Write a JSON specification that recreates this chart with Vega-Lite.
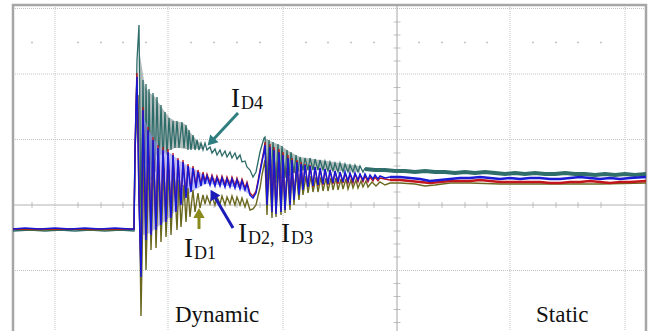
{
"$schema": "https://vega.github.io/schema/vega-lite/v6.json",
"width": 654, "height": 331, "autosize": "none", "padding": 0,
"background": "white",
"config": {"view": {"stroke": null}},
"encoding": {
 "x": {"field": "t", "type": "quantitative", "scale": {"domain": [0, 654], "nice": false, "zero": false}, "axis": null},
 "y": {"field": "i", "type": "quantitative", "scale": {"domain": [-126, 205], "nice": false, "zero": false}, "axis": null}
},
"datasets": {
 "grid": [
  {"k":"v","t":55,"t2":55,"i":200,"i2":-126},{"k":"v","t":168,"t2":168,"i":200,"i2":-126},{"k":"v","t":283,"t2":283,"i":200,"i2":-126},{"k":"v","t":510,"t2":510,"i":200,"i2":-126},{"k":"v","t":625,"t2":625,"i":200,"i2":-126},
  {"k":"h","t":13,"t2":646,"i":196.5,"i2":196.5},{"k":"h","t":13,"t2":646,"i":131,"i2":131},{"k":"h","t":13,"t2":646,"i":65.5,"i2":65.5},{"k":"h","t":13,"t2":646,"i":-65.5,"i2":-65.5},
  {"k":"c","t":397,"t2":397,"i":200,"i2":-126},{"k":"c","t":13,"t2":646,"i":0,"i2":0}
 ],
 "vt": [{"t":397,"i":13},{"t":397,"i":26},{"t":397,"i":39},{"t":397,"i":52},{"t":397,"i":78.5},{"t":397,"i":91.5},{"t":397,"i":104.5},{"t":397,"i":117.5},{"t":397,"i":144},{"t":397,"i":157},{"t":397,"i":170},{"t":397,"i":183},{"t":397,"i":-13},{"t":397,"i":-26},{"t":397,"i":-39},{"t":397,"i":-52},{"t":397,"i":-78.5},{"t":397,"i":-91.5},{"t":397,"i":-104.5},{"t":397,"i":-117.5}],
 "ht": [{"t":32,"i":0},{"t":78,"i":0},{"t":101,"i":0},{"t":123,"i":0},{"t":146,"i":0},{"t":191,"i":0},{"t":214,"i":0},{"t":237,"i":0},{"t":260,"i":0},{"t":306,"i":0},{"t":328,"i":0},{"t":351,"i":0},{"t":374,"i":0},{"t":419,"i":0},{"t":442,"i":0},{"t":465,"i":0},{"t":487,"i":0},{"t":533,"i":0},{"t":556,"i":0},{"t":578,"i":0},{"t":601,"i":0}],
 "dots": [{"t":32,"i":162.5},{"t":78,"i":162.5},{"t":101,"i":162.5},{"t":123,"i":162.5},{"t":146,"i":162.5},{"t":191,"i":162.5},{"t":214,"i":162.5},{"t":237,"i":162.5},{"t":260,"i":162.5},{"t":306,"i":162.5},{"t":328,"i":162.5},{"t":351,"i":162.5},{"t":374,"i":162.5},{"t":419,"i":162.5},{"t":442,"i":162.5},{"t":465,"i":162.5},{"t":487,"i":162.5},{"t":533,"i":162.5},{"t":556,"i":162.5},{"t":578,"i":162.5},{"t":601,"i":162.5},{"t":646,"i":162.5}],
 "frame": [{"t":13,"t2":646,"i":200,"i2":-140}],
 "env": [
  {"s":"4","g":"a","t":140,"i":150,"i2":40},{"s":"4","g":"a","t":145,"i":118,"i2":40},{"s":"4","g":"a","t":150,"i":112,"i2":45},{"s":"4","g":"a","t":155,"i":108,"i2":50},{"s":"4","g":"a","t":160,"i":100,"i2":50},{"s":"4","g":"a","t":165,"i":93,"i2":52},{"s":"4","g":"a","t":170,"i":87,"i2":55},{"s":"4","g":"a","t":175,"i":84,"i2":57},{"s":"4","g":"a","t":180,"i":83,"i2":57},{"s":"4","g":"a","t":185,"i":81,"i2":56},{"s":"4","g":"a","t":190,"i":73,"i2":56},{"s":"4","g":"a","t":195,"i":67,"i2":56},{"s":"4","g":"a","t":200,"i":62,"i2":56},{"s":"4","g":"a","t":203,"i":60,"i2":56},
  {"s":"4","g":"b","t":265,"i":67,"i2":25},{"s":"4","g":"b","t":270,"i":64,"i2":25},{"s":"4","g":"b","t":280,"i":60,"i2":27},{"s":"4","g":"b","t":290,"i":53,"i2":30},{"s":"4","g":"b","t":300,"i":48,"i2":34},{"s":"4","g":"b","t":320,"i":45,"i2":35},{"s":"4","g":"b","t":360,"i":39,"i2":33},
  {"s":"3","g":"c","t":143,"i":90,"i2":-30},{"s":"3","g":"c","t":150,"i":72,"i2":-28},{"s":"3","g":"c","t":160,"i":57,"i2":-20},{"s":"3","g":"c","t":170,"i":52,"i2":-12},{"s":"3","g":"c","t":180,"i":44,"i2":0},{"s":"3","g":"c","t":190,"i":38,"i2":12},{"s":"3","g":"c","t":200,"i":33,"i2":18},{"s":"3","g":"c","t":205,"i":28,"i2":21},{"s":"3","g":"c","t":220,"i":26,"i2":20},{"s":"3","g":"c","t":240,"i":24,"i2":17},{"s":"3","g":"c","t":250,"i":14,"i2":10}
 ],
 "tr": [
  {"s":"ID4","t":13,"i":-26},{"s":"ID4","t":30,"i":-25},{"s":"ID4","t":45,"i":-26},{"s":"ID4","t":60,"i":-25},{"s":"ID4","t":75,"i":-26},{"s":"ID4","t":90,"i":-25},{"s":"ID4","t":105,"i":-26},{"s":"ID4","t":120,"i":-25},{"s":"ID4","t":134,"i":-26},
  {"s":"ID4","t":135,"i":45},{"s":"ID4","t":137,"i":145},{"s":"ID4","t":139,"i":180},{"s":"ID4","t":141,"i":-25},{"s":"ID4","t":143,"i":125},{"s":"ID4","t":145,"i":5},{"s":"ID4","t":146,"i":121},{"s":"ID4","t":148,"i":15},{"s":"ID4","t":149,"i":116},{"s":"ID4","t":151,"i":25},{"s":"ID4","t":153,"i":112},{"s":"ID4","t":155,"i":33},{"s":"ID4","t":157,"i":108},{"s":"ID4","t":159,"i":40},{"s":"ID4","t":161,"i":100},{"s":"ID4","t":163,"i":45},{"s":"ID4","t":165,"i":93},{"s":"ID4","t":167,"i":50},{"s":"ID4","t":169,"i":87},{"s":"ID4","t":171,"i":55},{"s":"ID4","t":173,"i":84},{"s":"ID4","t":175,"i":57},{"s":"ID4","t":177,"i":84},{"s":"ID4","t":179,"i":57},{"s":"ID4","t":182,"i":83},{"s":"ID4","t":184,"i":57},{"s":"ID4","t":186,"i":80},{"s":"ID4","t":188,"i":55},{"s":"ID4","t":189,"i":75},{"s":"ID4","t":191,"i":55},{"s":"ID4","t":193,"i":70},{"s":"ID4","t":195,"i":55},{"s":"ID4","t":197,"i":65},{"s":"ID4","t":199,"i":55},{"s":"ID4","t":201,"i":62},{"s":"ID4","t":203,"i":55},
  {"s":"ID4","t":205,"i":62},{"s":"ID4","t":207,"i":55},{"s":"ID4","t":210,"i":58},{"s":"ID4","t":212,"i":52},{"s":"ID4","t":215,"i":56},{"s":"ID4","t":217,"i":50},{"s":"ID4","t":220,"i":55},{"s":"ID4","t":222,"i":49},{"s":"ID4","t":225,"i":54},{"s":"ID4","t":227,"i":48},{"s":"ID4","t":230,"i":53},{"s":"ID4","t":232,"i":47},{"s":"ID4","t":235,"i":52},{"s":"ID4","t":237,"i":46},{"s":"ID4","t":240,"i":50},{"s":"ID4","t":242,"i":43},{"s":"ID4","t":245,"i":44},{"s":"ID4","t":247,"i":38},{"s":"ID4","t":250,"i":35},{"s":"ID4","t":253,"i":28},{"s":"ID4","t":256,"i":33},{"s":"ID4","t":258,"i":43},{"s":"ID4","t":260,"i":53},{"s":"ID4","t":262,"i":60},{"s":"ID4","t":264,"i":67},
  {"s":"ID4","t":265,"i":68},{"s":"ID4","t":267,"i":20},{"s":"ID4","t":269,"i":65},{"s":"ID4","t":271,"i":20},{"s":"ID4","t":273,"i":63},{"s":"ID4","t":276,"i":22},{"s":"ID4","t":278,"i":61},{"s":"ID4","t":280,"i":25},{"s":"ID4","t":282,"i":59},{"s":"ID4","t":285,"i":27},{"s":"ID4","t":287,"i":55},{"s":"ID4","t":289,"i":29},{"s":"ID4","t":291,"i":53},{"s":"ID4","t":294,"i":32},{"s":"ID4","t":296,"i":50},{"s":"ID4","t":298,"i":33},{"s":"ID4","t":300,"i":48},{"s":"ID4","t":303,"i":35},{"s":"ID4","t":305,"i":47},{"s":"ID4","t":308,"i":35},{"s":"ID4","t":310,"i":47},{"s":"ID4","t":313,"i":35},{"s":"ID4","t":315,"i":46},{"s":"ID4","t":318,"i":35},{"s":"ID4","t":320,"i":45},{"s":"ID4","t":323,"i":35},{"s":"ID4","t":325,"i":44},{"s":"ID4","t":328,"i":34},{"s":"ID4","t":330,"i":43},{"s":"ID4","t":333,"i":34},{"s":"ID4","t":335,"i":42},{"s":"ID4","t":338,"i":33},{"s":"ID4","t":340,"i":42},{"s":"ID4","t":343,"i":33},{"s":"ID4","t":345,"i":41},{"s":"ID4","t":348,"i":33},{"s":"ID4","t":350,"i":40},{"s":"ID4","t":353,"i":33},{"s":"ID4","t":355,"i":40},{"s":"ID4","t":358,"i":33},{"s":"ID4","t":360,"i":39},{"s":"ID4","t":363,"i":33},{"s":"ID4","t":365,"i":37},
  {"s":"ID4s","t":365,"i":36},{"s":"ID4s","t":375,"i":35},{"s":"ID4s","t":385,"i":35},{"s":"ID4s","t":395,"i":34},{"s":"ID4s","t":405,"i":34},{"s":"ID4s","t":415,"i":33},{"s":"ID4s","t":425,"i":34},{"s":"ID4s","t":435,"i":33},{"s":"ID4s","t":445,"i":33},{"s":"ID4s","t":455,"i":32},{"s":"ID4s","t":465,"i":33},{"s":"ID4s","t":475,"i":32},{"s":"ID4s","t":485,"i":33},{"s":"ID4s","t":495,"i":32},{"s":"ID4s","t":505,"i":31},{"s":"ID4s","t":515,"i":32},{"s":"ID4s","t":525,"i":31},{"s":"ID4s","t":535,"i":32},{"s":"ID4s","t":545,"i":31},{"s":"ID4s","t":555,"i":31},{"s":"ID4s","t":565,"i":32},{"s":"ID4s","t":575,"i":31},{"s":"ID4s","t":585,"i":31},{"s":"ID4s","t":595,"i":30},{"s":"ID4s","t":605,"i":31},{"s":"ID4s","t":615,"i":30},{"s":"ID4s","t":625,"i":31},{"s":"ID4s","t":635,"i":30},{"s":"ID4s","t":646,"i":31},

  {"s":"ID1","t":13,"i":-24},{"s":"ID1","t":40,"i":-25},{"s":"ID1","t":70,"i":-24},{"s":"ID1","t":100,"i":-25},{"s":"ID1","t":134,"i":-24},
  {"s":"ID1","t":135,"i":55},{"s":"ID1","t":138,"i":110},{"s":"ID1","t":141,"i":-111},{"s":"ID1","t":144,"i":55},{"s":"ID1","t":146,"i":-65},{"s":"ID1","t":149,"i":50},{"s":"ID1","t":151,"i":-45},{"s":"ID1","t":154,"i":45},{"s":"ID1","t":156,"i":-43},{"s":"ID1","t":159,"i":40},{"s":"ID1","t":161,"i":-37},{"s":"ID1","t":164,"i":37},{"s":"ID1","t":166,"i":-32},{"s":"ID1","t":169,"i":35},{"s":"ID1","t":171,"i":-30},{"s":"ID1","t":174,"i":33},{"s":"ID1","t":177,"i":-25},{"s":"ID1","t":179,"i":25},{"s":"ID1","t":181,"i":-22},{"s":"ID1","t":184,"i":20},{"s":"ID1","t":186,"i":-17},{"s":"ID1","t":188,"i":17},{"s":"ID1","t":190,"i":-12},{"s":"ID1","t":193,"i":15},{"s":"ID1","t":195,"i":-7},{"s":"ID1","t":198,"i":12},{"s":"ID1","t":200,"i":-3},{"s":"ID1","t":203,"i":10},
  {"s":"ID1","t":205,"i":1},{"s":"ID1","t":207,"i":9},{"s":"ID1","t":210,"i":1},{"s":"ID1","t":212,"i":9},{"s":"ID1","t":215,"i":0},{"s":"ID1","t":217,"i":8},{"s":"ID1","t":220,"i":1},{"s":"ID1","t":222,"i":9},{"s":"ID1","t":225,"i":0},{"s":"ID1","t":227,"i":8},{"s":"ID1","t":230,"i":1},{"s":"ID1","t":232,"i":9},{"s":"ID1","t":235,"i":0},{"s":"ID1","t":237,"i":8},{"s":"ID1","t":240,"i":0},{"s":"ID1","t":242,"i":7},{"s":"ID1","t":245,"i":-2},{"s":"ID1","t":247,"i":5},{"s":"ID1","t":250,"i":-5},{"s":"ID1","t":253,"i":-4},{"s":"ID1","t":256,"i":0},{"s":"ID1","t":258,"i":9},{"s":"ID1","t":260,"i":17},{"s":"ID1","t":262,"i":30},{"s":"ID1","t":264,"i":40},
  {"s":"ID1","t":265,"i":45},{"s":"ID1","t":267,"i":-10},{"s":"ID1","t":269,"i":45},{"s":"ID1","t":272,"i":-13},{"s":"ID1","t":274,"i":45},{"s":"ID1","t":276,"i":-12},{"s":"ID1","t":278,"i":43},{"s":"ID1","t":281,"i":-10},{"s":"ID1","t":283,"i":40},{"s":"ID1","t":285,"i":-8},{"s":"ID1","t":287,"i":37},{"s":"ID1","t":290,"i":-5},{"s":"ID1","t":292,"i":35},{"s":"ID1","t":294,"i":0},{"s":"ID1","t":296,"i":33},{"s":"ID1","t":299,"i":5},{"s":"ID1","t":301,"i":30},{"s":"ID1","t":303,"i":10},{"s":"ID1","t":306,"i":29},{"s":"ID1","t":308,"i":12},{"s":"ID1","t":311,"i":29},{"s":"ID1","t":313,"i":13},{"s":"ID1","t":316,"i":28},{"s":"ID1","t":318,"i":13},{"s":"ID1","t":321,"i":28},{"s":"ID1","t":323,"i":14},{"s":"ID1","t":326,"i":27},{"s":"ID1","t":328,"i":14},{"s":"ID1","t":331,"i":27},{"s":"ID1","t":333,"i":15},{"s":"ID1","t":336,"i":27},{"s":"ID1","t":338,"i":15},{"s":"ID1","t":341,"i":26},{"s":"ID1","t":343,"i":16},{"s":"ID1","t":346,"i":26},{"s":"ID1","t":348,"i":16},{"s":"ID1","t":351,"i":25},{"s":"ID1","t":353,"i":17},{"s":"ID1","t":356,"i":25},{"s":"ID1","t":358,"i":17},{"s":"ID1","t":361,"i":24},{"s":"ID1","t":363,"i":18},{"s":"ID1","t":366,"i":24},{"s":"ID1","t":368,"i":18},{"s":"ID1","t":372,"i":23},{"s":"ID1","t":376,"i":19},{"s":"ID1","t":380,"i":23},{"s":"ID1","t":385,"i":20},{"s":"ID1","t":390,"i":22},
  {"s":"ID1","t":400,"i":22},{"s":"ID1","t":415,"i":21},{"s":"ID1","t":425,"i":19},{"s":"ID1","t":435,"i":20},{"s":"ID1","t":450,"i":22},{"s":"ID1","t":470,"i":22},{"s":"ID1","t":500,"i":21},{"s":"ID1","t":530,"i":21},{"s":"ID1","t":560,"i":21},{"s":"ID1","t":600,"i":21},{"s":"ID1","t":646,"i":22},

  {"s":"ID2","t":13,"i":-24},{"s":"ID2","t":50,"i":-24},{"s":"ID2","t":90,"i":-24},{"s":"ID2","t":134,"i":-24},
  {"s":"ID2","t":135,"i":55},{"s":"ID2","t":136,"i":100},{"s":"ID2","t":137,"i":132},{"s":"ID2","t":139,"i":5},{"s":"ID2","t":141,"i":-65},{"s":"ID2","t":143,"i":98},{"s":"ID2","t":146,"i":-32},{"s":"ID2","t":148,"i":78},{"s":"ID2","t":151,"i":-28},{"s":"ID2","t":153,"i":68},{"s":"ID2","t":156,"i":-22},{"s":"ID2","t":158,"i":60},{"s":"ID2","t":161,"i":-18},{"s":"ID2","t":163,"i":58},{"s":"ID2","t":166,"i":-15},{"s":"ID2","t":168,"i":56},{"s":"ID2","t":171,"i":-11},{"s":"ID2","t":173,"i":52},{"s":"ID2","t":176,"i":-5},{"s":"ID2","t":178,"i":47},{"s":"ID2","t":181,"i":2},{"s":"ID2","t":183,"i":45},{"s":"ID2","t":186,"i":9},{"s":"ID2","t":188,"i":41},{"s":"ID2","t":191,"i":15},{"s":"ID2","t":193,"i":39},{"s":"ID2","t":196,"i":19},{"s":"ID2","t":198,"i":35},{"s":"ID2","t":201,"i":21},{"s":"ID2","t":203,"i":33},
  {"s":"ID2","t":205,"i":23},{"s":"ID2","t":207,"i":31},{"s":"ID2","t":210,"i":22},{"s":"ID2","t":212,"i":30},{"s":"ID2","t":215,"i":21},{"s":"ID2","t":217,"i":29},{"s":"ID2","t":220,"i":21},{"s":"ID2","t":222,"i":29},{"s":"ID2","t":225,"i":20},{"s":"ID2","t":227,"i":28},{"s":"ID2","t":230,"i":20},{"s":"ID2","t":232,"i":28},{"s":"ID2","t":235,"i":19},{"s":"ID2","t":237,"i":27},{"s":"ID2","t":240,"i":18},{"s":"ID2","t":242,"i":26},{"s":"ID2","t":245,"i":17},{"s":"ID2","t":247,"i":23},{"s":"ID2","t":250,"i":12},{"s":"ID2","t":253,"i":9},{"s":"ID2","t":256,"i":14},{"s":"ID2","t":258,"i":24},{"s":"ID2","t":260,"i":35},{"s":"ID2","t":262,"i":45},{"s":"ID2","t":264,"i":55},
  {"s":"ID2","t":265,"i":63},{"s":"ID2","t":267,"i":2},{"s":"ID2","t":270,"i":61},{"s":"ID2","t":272,"i":-5},{"s":"ID2","t":274,"i":58},{"s":"ID2","t":276,"i":-7},{"s":"ID2","t":279,"i":56},{"s":"ID2","t":281,"i":-5},{"s":"ID2","t":283,"i":53},{"s":"ID2","t":285,"i":-3},{"s":"ID2","t":288,"i":50},{"s":"ID2","t":290,"i":2},{"s":"ID2","t":292,"i":47},{"s":"ID2","t":294,"i":7},{"s":"ID2","t":297,"i":45},{"s":"ID2","t":299,"i":12},{"s":"ID2","t":301,"i":43},{"s":"ID2","t":303,"i":16},{"s":"ID2","t":305,"i":41},{"s":"ID2","t":308,"i":18},{"s":"ID2","t":310,"i":40},{"s":"ID2","t":313,"i":18},{"s":"ID2","t":315,"i":38},{"s":"ID2","t":318,"i":19},{"s":"ID2","t":320,"i":37},{"s":"ID2","t":323,"i":20},{"s":"ID2","t":325,"i":36},{"s":"ID2","t":328,"i":20},{"s":"ID2","t":330,"i":35},{"s":"ID2","t":333,"i":21},{"s":"ID2","t":335,"i":34},{"s":"ID2","t":338,"i":21},{"s":"ID2","t":340,"i":33},{"s":"ID2","t":343,"i":22},{"s":"ID2","t":345,"i":32},{"s":"ID2","t":348,"i":22},{"s":"ID2","t":350,"i":31},{"s":"ID2","t":353,"i":22},{"s":"ID2","t":355,"i":31},{"s":"ID2","t":358,"i":23},{"s":"ID2","t":360,"i":30},{"s":"ID2","t":363,"i":23},{"s":"ID2","t":365,"i":29},{"s":"ID2","t":368,"i":23},{"s":"ID2","t":370,"i":28},{"s":"ID2","t":373,"i":24},{"s":"ID2","t":375,"i":28},{"s":"ID2","t":378,"i":24},{"s":"ID2","t":380,"i":27},{"s":"ID2","t":385,"i":26},{"s":"ID2","t":390,"i":25},
  {"s":"ID2s","t":390,"i":25},{"s":"ID2s","t":400,"i":25},{"s":"ID2s","t":410,"i":24},{"s":"ID2s","t":420,"i":23},{"s":"ID2s","t":430,"i":22},{"s":"ID2s","t":440,"i":23},{"s":"ID2s","t":450,"i":24},{"s":"ID2s","t":460,"i":24},{"s":"ID2s","t":470,"i":24},{"s":"ID2s","t":480,"i":25},{"s":"ID2s","t":490,"i":24},{"s":"ID2s","t":500,"i":23},{"s":"ID2s","t":510,"i":23},{"s":"ID2s","t":520,"i":23},{"s":"ID2s","t":530,"i":23},{"s":"ID2s","t":540,"i":23},{"s":"ID2s","t":550,"i":22},{"s":"ID2s","t":560,"i":22},{"s":"ID2s","t":570,"i":23},{"s":"ID2s","t":580,"i":23},{"s":"ID2s","t":590,"i":24},{"s":"ID2s","t":600,"i":23},{"s":"ID2s","t":610,"i":22},{"s":"ID2s","t":620,"i":23},{"s":"ID2s","t":630,"i":23},{"s":"ID2s","t":646,"i":24},

  {"s":"ID3","t":13,"i":-24},{"s":"ID3","t":25,"i":-23},{"s":"ID3","t":40,"i":-24},{"s":"ID3","t":55,"i":-23},{"s":"ID3","t":70,"i":-24},{"s":"ID3","t":85,"i":-23},{"s":"ID3","t":100,"i":-24},{"s":"ID3","t":115,"i":-23},{"s":"ID3","t":130,"i":-24},{"s":"ID3","t":134,"i":-24},
  {"s":"ID3","t":135,"i":55},{"s":"ID3","t":136,"i":95},{"s":"ID3","t":137,"i":128},{"s":"ID3","t":139,"i":5},{"s":"ID3","t":141,"i":-72},{"s":"ID3","t":143,"i":95},{"s":"ID3","t":146,"i":-35},{"s":"ID3","t":148,"i":75},{"s":"ID3","t":151,"i":-30},{"s":"ID3","t":153,"i":65},{"s":"ID3","t":156,"i":-25},{"s":"ID3","t":158,"i":57},{"s":"ID3","t":161,"i":-20},{"s":"ID3","t":163,"i":55},{"s":"ID3","t":166,"i":-17},{"s":"ID3","t":168,"i":53},{"s":"ID3","t":171,"i":-13},{"s":"ID3","t":173,"i":50},{"s":"ID3","t":176,"i":-7},{"s":"ID3","t":178,"i":45},{"s":"ID3","t":181,"i":0},{"s":"ID3","t":183,"i":43},{"s":"ID3","t":186,"i":7},{"s":"ID3","t":188,"i":39},{"s":"ID3","t":191,"i":13},{"s":"ID3","t":193,"i":37},{"s":"ID3","t":196,"i":17},{"s":"ID3","t":198,"i":33},{"s":"ID3","t":201,"i":19},{"s":"ID3","t":203,"i":31},
  {"s":"ID3","t":205,"i":21},{"s":"ID3","t":207,"i":29},{"s":"ID3","t":210,"i":20},{"s":"ID3","t":212,"i":28},{"s":"ID3","t":215,"i":19},{"s":"ID3","t":217,"i":27},{"s":"ID3","t":220,"i":19},{"s":"ID3","t":222,"i":27},{"s":"ID3","t":225,"i":18},{"s":"ID3","t":227,"i":26},{"s":"ID3","t":230,"i":18},{"s":"ID3","t":232,"i":26},{"s":"ID3","t":235,"i":17},{"s":"ID3","t":237,"i":25},{"s":"ID3","t":240,"i":16},{"s":"ID3","t":242,"i":24},{"s":"ID3","t":245,"i":15},{"s":"ID3","t":247,"i":21},{"s":"ID3","t":250,"i":10},{"s":"ID3","t":253,"i":7},{"s":"ID3","t":256,"i":12},{"s":"ID3","t":258,"i":22},{"s":"ID3","t":260,"i":33},{"s":"ID3","t":262,"i":43},{"s":"ID3","t":264,"i":53},
  {"s":"ID3","t":265,"i":60},{"s":"ID3","t":267,"i":0},{"s":"ID3","t":270,"i":58},{"s":"ID3","t":272,"i":-7},{"s":"ID3","t":274,"i":55},{"s":"ID3","t":276,"i":-9},{"s":"ID3","t":279,"i":53},{"s":"ID3","t":281,"i":-7},{"s":"ID3","t":283,"i":50},{"s":"ID3","t":285,"i":-5},{"s":"ID3","t":288,"i":47},{"s":"ID3","t":290,"i":0},{"s":"ID3","t":292,"i":45},{"s":"ID3","t":294,"i":5},{"s":"ID3","t":297,"i":43},{"s":"ID3","t":299,"i":10},{"s":"ID3","t":301,"i":41},{"s":"ID3","t":303,"i":15},{"s":"ID3","t":305,"i":40},{"s":"ID3","t":308,"i":18},{"s":"ID3","t":310,"i":39},{"s":"ID3","t":313,"i":19},{"s":"ID3","t":315,"i":38},{"s":"ID3","t":318,"i":20},{"s":"ID3","t":320,"i":37},{"s":"ID3","t":323,"i":21},{"s":"ID3","t":325,"i":36},{"s":"ID3","t":328,"i":21},{"s":"ID3","t":330,"i":35},{"s":"ID3","t":333,"i":22},{"s":"ID3","t":335,"i":34},{"s":"ID3","t":338,"i":23},{"s":"ID3","t":340,"i":33},{"s":"ID3","t":343,"i":23},{"s":"ID3","t":345,"i":33},{"s":"ID3","t":348,"i":24},{"s":"ID3","t":350,"i":32},{"s":"ID3","t":353,"i":24},{"s":"ID3","t":355,"i":32},{"s":"ID3","t":358,"i":25},{"s":"ID3","t":360,"i":31},{"s":"ID3","t":363,"i":25},{"s":"ID3","t":365,"i":31},{"s":"ID3","t":368,"i":25},{"s":"ID3","t":370,"i":30},{"s":"ID3","t":373,"i":26},{"s":"ID3","t":375,"i":30},{"s":"ID3","t":378,"i":26},{"s":"ID3","t":380,"i":29},{"s":"ID3","t":385,"i":27},{"s":"ID3","t":390,"i":28},
  {"s":"ID3s","t":390,"i":28},{"s":"ID3s","t":400,"i":28},{"s":"ID3s","t":410,"i":27},{"s":"ID3s","t":420,"i":26},{"s":"ID3s","t":430,"i":24},{"s":"ID3s","t":440,"i":25},{"s":"ID3s","t":450,"i":26},{"s":"ID3s","t":460,"i":27},{"s":"ID3s","t":470,"i":27},{"s":"ID3s","t":480,"i":28},{"s":"ID3s","t":490,"i":27},{"s":"ID3s","t":500,"i":26},{"s":"ID3s","t":510,"i":27},{"s":"ID3s","t":520,"i":26},{"s":"ID3s","t":530,"i":27},{"s":"ID3s","t":540,"i":27},{"s":"ID3s","t":550,"i":26},{"s":"ID3s","t":560,"i":26},{"s":"ID3s","t":570,"i":27},{"s":"ID3s","t":580,"i":28},{"s":"ID3s","t":590,"i":27},{"s":"ID3s","t":600,"i":26},{"s":"ID3s","t":610,"i":27},{"s":"ID3s","t":620,"i":26},{"s":"ID3s","t":630,"i":27},{"s":"ID3s","t":646,"i":28}
 ],
 "arrows": [
  {"s":"4","t":238,"i":92,"t2":211,"i2":63},
  {"s":"1","t":199,"i":-24,"t2":199,"i2":-8},
  {"s":"23","t":233,"i":-23,"t2":213,"i2":11}
 ],
 "labI": [{"t":231,"i":98,"txt":"I"},{"t":184,"i":-52,"txt":"I"},{"t":238,"i":-37,"txt":"I"},{"t":281,"i":-37,"txt":"I"}],
 "labSub": [{"t":241,"i":96,"txt":"D4"},{"t":194,"i":-54,"txt":"D1"},{"t":248,"i":-39,"txt":"D2,"},{"t":291,"i":-39,"txt":"D3"}],
 "labWord": [{"t":175,"i":-117,"txt":"Dynamic"},{"t":536,"i":-117,"txt":"Static"}]
},
"layer": [
 {"data": {"name": "grid"}, "transform": [{"filter": "datum.k != 'c'"}],
  "mark": {"type": "rule", "color": "#c4c4c4", "strokeWidth": 1, "strokeDash": [1, 1]},
  "encoding": {"x2": {"field": "t2"}, "y2": {"field": "i2"}}},
 {"data": {"name": "grid"}, "transform": [{"filter": "datum.k == 'c'"}],
  "mark": {"type": "rule", "color": "#b4b4b4", "strokeWidth": 1.2},
  "encoding": {"x2": {"field": "t2"}, "y2": {"field": "i2"}}},
 {"data": {"name": "vt"}, "mark": {"type": "tick", "orient": "horizontal", "size": 7, "thickness": 1, "color": "#a8a8a8"}},
 {"data": {"name": "ht"}, "mark": {"type": "tick", "orient": "vertical", "size": 6, "thickness": 1, "color": "#a8a8a8"}},
 {"data": {"name": "dots"}, "mark": {"type": "point", "shape": "square", "size": 3, "filled": true, "color": "#b8b8b8", "opacity": 1}},
 {"data": {"name": "frame"}, "mark": {"type": "rect", "fill": null, "stroke": "#a6a6a6", "strokeWidth": 2.5, "clip": true},
  "encoding": {"x2": {"field": "t2"}, "y2": {"field": "i2"}}},
 {"data": {"name": "env"}, "transform": [{"filter": "datum.s == '4'"}],
  "mark": {"type": "area", "color": "#a9b6b4", "opacity": 0.9},
  "encoding": {"y2": {"field": "i2"}, "detail": {"field": "g"}}},
 {"data": {"name": "tr"}, "transform": [{"filter": "datum.s == 'ID4'"}],
  "mark": {"type": "line", "color": "#2d6b69", "strokeWidth": 1.3}},
 {"data": {"name": "tr"}, "transform": [{"filter": "datum.s == 'ID4s'"}],
  "mark": {"type": "line", "color": "#2f6e6a", "strokeWidth": 4}},
 {"data": {"name": "env"}, "transform": [{"filter": "datum.s == '3'"}],
  "mark": {"type": "area", "color": "#8f8ff2", "opacity": 0.6},
  "encoding": {"y2": {"field": "i2"}, "detail": {"field": "g"}}},
 {"data": {"name": "tr"}, "transform": [{"filter": "datum.s == 'ID1'"}],
  "mark": {"type": "line", "color": "#6b6820", "strokeWidth": 1.4}},
 {"data": {"name": "tr"}, "transform": [{"filter": "datum.s == 'ID2'"}],
  "mark": {"type": "line", "color": "#b8141c", "strokeWidth": 1.3}},
 {"data": {"name": "tr"}, "transform": [{"filter": "datum.s == 'ID2s'"}],
  "mark": {"type": "line", "color": "#c2161c", "strokeWidth": 2.5}},
 {"data": {"name": "tr"}, "transform": [{"filter": "datum.s == 'ID3'"}],
  "mark": {"type": "line", "color": "#1717d6", "strokeWidth": 1.5}},
 {"data": {"name": "tr"}, "transform": [{"filter": "datum.s == 'ID3s'"}],
  "mark": {"type": "line", "color": "#1c1cd6", "strokeWidth": 2.5}},
 {"data": {"name": "arrows"},
  "mark": {"type": "rule", "strokeWidth": 3},
  "encoding": {"x2": {"field": "t2"}, "y2": {"field": "i2"},
   "color": {"field": "s", "type": "nominal", "scale": {"domain": ["4", "1", "23"], "range": ["#2f7f80", "#8a8a1c", "#1c1cb8"]}, "legend": null}}},
 {"data": {"name": "arrows"}, "transform": [{"filter": "datum.s == '4'"}],
  "mark": {"type": "point", "shape": "triangle-up", "filled": true, "size": 130, "angle": 223, "color": "#2f7f80", "opacity": 1},
  "encoding": {"x": {"field": "t2", "type": "quantitative"}, "y": {"field": "i2", "type": "quantitative"}}},
 {"data": {"name": "arrows"}, "transform": [{"filter": "datum.s == '1'"}],
  "mark": {"type": "point", "shape": "triangle-up", "filled": true, "size": 130, "angle": 0, "color": "#8a8a1c", "opacity": 1},
  "encoding": {"x": {"field": "t2", "type": "quantitative"}, "y": {"field": "i2", "type": "quantitative"}}},
 {"data": {"name": "arrows"}, "transform": [{"filter": "datum.s == '23'"}],
  "mark": {"type": "point", "shape": "triangle-up", "filled": true, "size": 130, "angle": 330, "color": "#1c1cb8", "opacity": 1},
  "encoding": {"x": {"field": "t2", "type": "quantitative"}, "y": {"field": "i2", "type": "quantitative"}}},
 {"data": {"name": "labI"}, "mark": {"type": "text", "font": "Liberation Serif", "fontSize": 27, "align": "left", "baseline": "alphabetic", "color": "#111111"},
  "encoding": {"text": {"field": "txt"}}},
 {"data": {"name": "labSub"}, "mark": {"type": "text", "font": "Liberation Serif", "fontSize": 18, "align": "left", "baseline": "alphabetic", "color": "#111111"},
  "encoding": {"text": {"field": "txt"}}},
 {"data": {"name": "labWord"}, "mark": {"type": "text", "font": "Liberation Serif", "fontSize": 23, "align": "left", "baseline": "alphabetic", "color": "#111111"},
  "encoding": {"text": {"field": "txt"}}}
]
}
